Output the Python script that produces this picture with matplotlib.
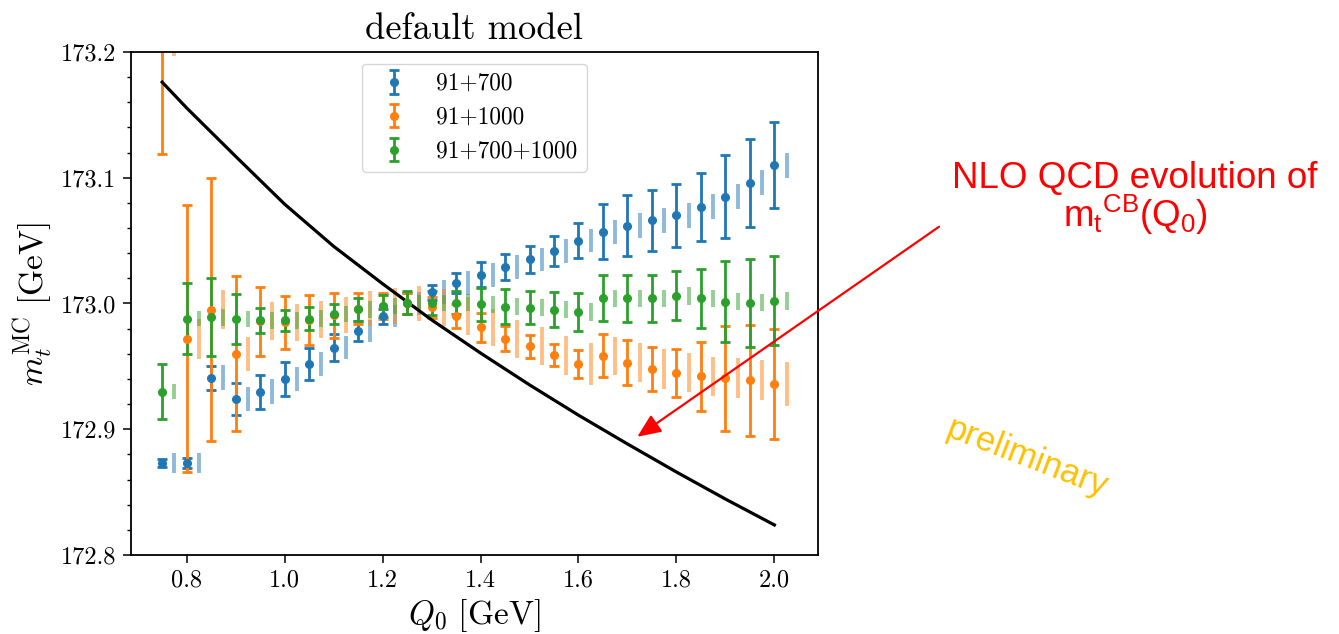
import numpy as np
import matplotlib.pyplot as plt
from matplotlib.ticker import MultipleLocator, FormatStrFormatter

plt.rcParams['font.family'] = 'serif'
plt.rcParams['font.serif'] = ['cmr10']
plt.rcParams['mathtext.fontset'] = 'cm'
plt.rcParams['mathtext.rm'] = 'Liberation Sans'   # used only by the red 'custom' math text
plt.rcParams['axes.formatter.use_mathtext'] = True

# ---- data ----
Q0 = [0.75, 0.80, 0.85, 0.90, 0.95, 1.00, 1.05, 1.10, 1.15, 1.20, 1.25, 1.30, 1.35,
      1.40, 1.45, 1.50, 1.55, 1.60, 1.65, 1.70, 1.75, 1.80, 1.85, 1.90, 1.95, 2.00]

m_700 = [172.873, 172.873, 172.941, 172.924, 172.930, 172.940, 172.952, 172.965, 172.978,
         172.990, 173.000, 173.009, 173.016, 173.023, 173.029, 173.035, 173.042, 173.050,
         173.057, 173.062, 173.066, 173.070, 173.077, 173.085, 173.096, 173.110]
err_700 = [0.003, 0.004, 0.0095, 0.013, 0.0135, 0.0135, 0.013, 0.011, 0.008, 0.006, 0.008,
           0.006, 0.008, 0.010, 0.0105, 0.011, 0.012, 0.014, 0.022, 0.024, 0.024, 0.025,
           0.027, 0.033, 0.035, 0.034]
band_700 = [0.008, 0.008, 0.010, 0.0095, 0.010, 0.0097, 0.0093, 0.009, 0.009, 0.009, 0.009,
            0.0095, 0.0095, 0.0095, 0.0095, 0.0095, 0.0095, 0.0093, 0.0095, 0.0097, 0.0097,
            0.0098, 0.0097, 0.0098, 0.0099, 0.0099]

m_1000 = [173.215, 172.972, 172.995, 172.960, 172.986, 172.985, 172.987, 172.9905, 172.996,
          172.998, 173.000, 172.997, 172.990, 172.981, 172.972, 172.966, 172.959, 172.952,
          172.9585, 172.953, 172.948, 172.945, 172.942, 172.9405, 172.939, 172.936]
err_1000 = [0.096, 0.106, 0.1045, 0.0615, 0.0275, 0.021, 0.020, 0.018, 0.012, 0.010, 0.008,
            0.0085, 0.0093, 0.0115, 0.010, 0.0093, 0.0087, 0.011, 0.0172, 0.018, 0.0178,
            0.0192, 0.0274, 0.0417, 0.044, 0.0435]
band_1000 = [0.018, 0.016, 0.0156, 0.0137, 0.015, 0.0149, 0.0146, 0.0143, 0.014, 0.014, 0.014,
             0.0145, 0.015, 0.015, 0.015, 0.015, 0.0155, 0.0166, 0.0152, 0.0155, 0.0156,
             0.0155, 0.0158, 0.016, 0.016, 0.0176]

m_all = [172.930, 172.988, 172.989, 172.9875, 172.9865, 172.9865, 172.988, 172.9916, 172.9953,
         172.998, 173.0006, 173.0006, 173.0006, 172.9994, 172.9975, 172.9967, 172.995, 172.993,
         173.004, 173.004, 173.004, 173.006, 173.004, 173.0015, 173.0006, 173.002]
err_all = [0.022, 0.028, 0.031, 0.020, 0.0102, 0.0087, 0.0091, 0.0083, 0.0093, 0.0086, 0.009,
           0.0095, 0.0093, 0.013, 0.0142, 0.0129, 0.0138, 0.015, 0.0183, 0.019, 0.019, 0.0195,
           0.0235, 0.0325, 0.035, 0.0354]
band_all = [0.0057, 0.0062, 0.0065, 0.0065, 0.0065, 0.0065, 0.0065, 0.0065, 0.0065, 0.0065,
            0.0065, 0.0065, 0.0066, 0.0066, 0.0066, 0.0067, 0.0067, 0.007, 0.0066, 0.0068,
            0.0068, 0.0068, 0.0068, 0.0068, 0.0068, 0.0068]

# NLO QCD evolution of m_t^CB(Q0)
Q_nlo = [0.75, 0.80, 0.90, 1.00, 1.10, 1.20, 1.30, 1.40, 1.50, 1.60, 1.70, 1.80, 1.90, 2.00]
m_nlo = [173.176, 173.1555, 173.117, 173.079, 173.0455, 173.0157, 172.987, 172.9606,
         172.9353, 172.9112, 172.8883, 172.866, 172.8445, 172.8239]

series = [('91+700', m_700, err_700, band_700, 'C0'),
          ('91+1000', m_1000, err_1000, band_1000, 'C1'),
          ('91+700+1000', m_all, err_all, band_all, 'C2')]
shift = 0.025

fig = plt.figure(figsize=(13.39, 6.34), dpi=100)
ax = fig.add_axes([0.0978, 0.1246, 0.513, 0.7934])

for lab, m, e, b, c in series:
    ax.errorbar(Q0, m, yerr=e, fmt='o', color=c, ms=5.5, elinewidth=2.0,
                capsize=3.3, capthick=2.0, label=lab)
    ax.errorbar(np.array(Q0) + shift, m, yerr=b, fmt='none', ecolor=c,
                elinewidth=2.8, alpha=0.5)

ax.plot(Q_nlo, m_nlo, color='black', lw=2.3)

ax.set_ylim(172.8, 173.2)
ax.xaxis.set_major_locator(MultipleLocator(0.2))
ax.yaxis.set_major_locator(MultipleLocator(0.1))
ax.yaxis.set_minor_locator(MultipleLocator(0.02))
ax.yaxis.set_major_formatter(FormatStrFormatter('%.1f'))
ax.xaxis.set_major_formatter(FormatStrFormatter('%.1f'))
ax.tick_params(labelsize=17.5, length=5.5, width=1.1, pad=5)
ax.tick_params(which='minor', length=3, width=1.0)
for s in ax.spines.values():
    s.set_linewidth(1.3)

ax.set_xlabel(r'$Q_0\ [\mathrm{GeV}]$', fontsize=24)
ax.set_ylabel(r'$m_t^{\mathrm{MC}}\ [\mathrm{GeV}]$', fontsize=24)
ax.set_title('default model', fontsize=26.3, pad=9)
ax.legend(loc='upper center', fontsize=16.8)

# annotations
ax.annotate('', xy=(1.72, 172.894), xytext=(2.336, 173.061),
            arrowprops=dict(arrowstyle='-|>,head_length=0.65,head_width=0.28',
                            color='red', lw=1.6, mutation_scale=22,
                            shrinkA=0, shrinkB=0),
            annotation_clip=False)
fig.text(0.8477, 0.642, 'NLO QCD evolution of\n' + r'$\mathrm{m_{t}{}^{CB}(Q_{0})}$',
         ha='center', va='baseline', multialignment='center', linespacing=0.92,
         color='red', fontsize=26.5, family='Liberation Sans', math_fontfamily='custom')
fig.text(0.767, 0.2776, 'preliminary', ha='center', va='center', rotation=-21,
         color='#FFC000', fontsize=25, family='Liberation Sans')

fig.savefig('out.png', dpi=100)
